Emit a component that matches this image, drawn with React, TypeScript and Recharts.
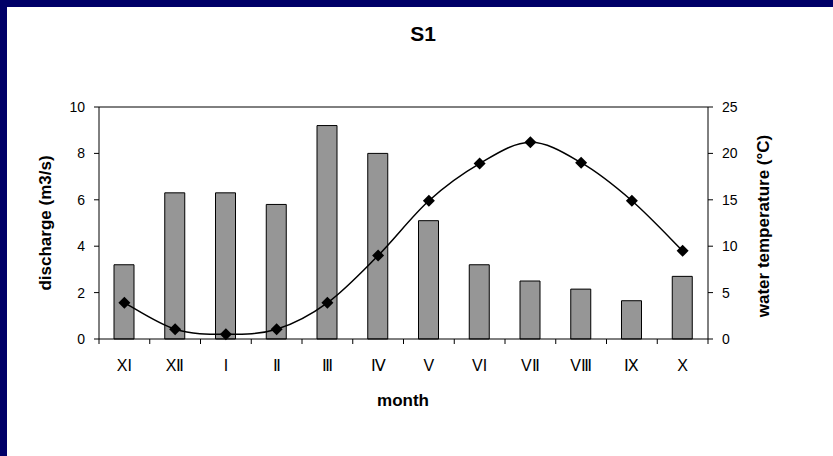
import React from "react";
import { ComposedChart, Bar, Line, XAxis, YAxis, ReferenceLine } from "recharts";

const MONTHS = ["XI", "XⅡ", "I", "Ⅱ", "Ⅲ", "Ⅳ", "V", "VI", "VⅡ", "VⅢ", "Ⅸ", "X"];
const DISCHARGE = [3.2, 6.3, 6.3, 5.8, 9.2, 8.0, 5.1, 3.2, 2.5, 2.15, 1.65, 2.7];
const TEMPERATURE = [3.9, 1.05, 0.5, 1.05, 3.9, 9.0, 14.9, 18.9, 21.2, 19.0, 14.9, 9.5];
const LEFT_TICKS = [0, 2, 4, 6, 8, 10];
const RIGHT_TICKS = [0, 5, 10, 15, 20, 25];

const data = MONTHS.map((m, i) => ({ month: m, discharge: DISCHARGE[i], temp: TEMPERATURE[i] }));

const W = 833;
const H = 456;
const FONT = "'Liberation Sans', Arial, sans-serif";
const PLOT = { left: 99, right: 708, top: 107, bottom: 339 };
const BAND = (PLOT.right - PLOT.left) / MONTHS.length;

// Excel-like smoothed line (Catmull-Rom as cubic bezier)
function smoothCurve(context: any) {
  let pts: number[][] = [];
  return {
    areaStart() {},
    areaEnd() {},
    lineStart() {
      pts = [];
    },
    lineEnd() {
      if (!pts.length) return;
      context.moveTo(pts[0][0], pts[0][1]);
      for (let i = 0; i < pts.length - 1; i++) {
        const p0 = pts[i - 1] || pts[i];
        const p1 = pts[i];
        const p2 = pts[i + 1];
        const p3 = pts[i + 2] || p2;
        context.bezierCurveTo(
          p1[0] + (p2[0] - p0[0]) / 6,
          p1[1] + (p2[1] - p0[1]) / 6,
          p2[0] - (p3[0] - p1[0]) / 6,
          p2[1] - (p3[1] - p1[1]) / 6,
          p2[0],
          p2[1]
        );
      }
    },
    point(x: number, y: number) {
      pts.push([+x, +y]);
    },
  };
}

function Diamond(props: any) {
  const { cx, cy } = props;
  if (cx == null || cy == null) return null;
  const r = 6;
  return <path d={`M${cx},${cy - r}L${cx + r},${cy}L${cx},${cy + r}L${cx - r},${cy}Z`} fill="#000" />;
}

function MonthTick(props: any) {
  const { x, y, payload, index } = props;
  const half = BAND / 2;
  return (
    <g>
      <line x1={x - half} x2={x - half} y1={y} y2={y + 5} stroke="#000" />
      {index === MONTHS.length - 1 && <line x1={x + half} x2={x + half} y1={y} y2={y + 5} stroke="#000" />}
      <text x={x} y={y + 32} textAnchor="middle" fontSize={16} fontFamily={FONT} fill="#000">
        {payload.value}
      </text>
    </g>
  );
}

export default function App() {
  const tickStyle = { fontSize: 14, fontFamily: FONT, fill: "#000" };
  return (
    <div
      style={{
        position: "absolute",
        left: 0,
        top: 0,
        width: W,
        height: H,
        background: "#fff",
        boxSizing: "border-box",
        borderTop: "7px solid #000068",
        borderLeft: "7px solid #000068",
        overflow: "hidden",
      }}
    >
      <div style={{ position: "absolute", left: -7, top: -7 }}>
        <ComposedChart
          width={W}
          height={H}
          data={data}
          margin={{ top: PLOT.top, right: W - PLOT.right - 40, bottom: H - PLOT.bottom - 30, left: PLOT.left - 40 }}
        >
          <XAxis
            dataKey="month"
            height={30}
            axisLine={{ stroke: "#000" }}
            tickLine={false}
            tickSize={0}
            tickMargin={0}
            interval={0}
            tick={<MonthTick />}
          />
          <YAxis
            yAxisId="left"
            width={40}
            domain={[0, 10]}
            ticks={LEFT_TICKS}
            interval={0}
            axisLine={{ stroke: "#000" }}
            tickLine={{ stroke: "#000" }}
            tickSize={5}
            tickMargin={9}
            tick={tickStyle}
          />
          <YAxis
            yAxisId="right"
            orientation="right"
            width={40}
            domain={[0, 25]}
            ticks={RIGHT_TICKS}
            interval={0}
            axisLine={{ stroke: "#000" }}
            tickLine={{ stroke: "#000" }}
            tickSize={5}
            tickMargin={9}
            tick={{ ...tickStyle, textAnchor: "start" }}
          />
          <ReferenceLine yAxisId="left" y={10} stroke="#000" />
          <Bar
            yAxisId="left"
            dataKey="discharge"
            barSize={20}
            fill="#969696"
            stroke="#000"
            strokeWidth={1}
            isAnimationActive={false}
          />
          <Line
            yAxisId="right"
            dataKey="temp"
            type={smoothCurve as any}
            stroke="#000"
            strokeWidth={1.5}
            dot={<Diamond />}
            activeDot={false}
            isAnimationActive={false}
          />
        </ComposedChart>
        <svg width={W} height={H} style={{ position: "absolute", left: 0, top: 0, pointerEvents: "none" }}>
          <text x={423} y={41} textAnchor="middle" fontSize={21} fontWeight="bold" fontFamily={FONT} fill="#000">
            S1
          </text>
          <text x={403} y={406} textAnchor="middle" fontSize={17} fontWeight="bold" fontFamily={FONT} fill="#000">
            month
          </text>
          <text
            transform={`translate(51,${(PLOT.top + PLOT.bottom) / 2}) rotate(-90)`}
            textAnchor="middle"
            fontSize={17}
            fontWeight="bold"
            fontFamily={FONT}
            fill="#000"
          >
            discharge (m3/s)
          </text>
          <text
            transform={`translate(769,${(PLOT.top + PLOT.bottom) / 2 + 3}) rotate(-90)`}
            textAnchor="middle"
            fontSize={17}
            fontWeight="bold"
            fontFamily={FONT}
            fill="#000"
          >
            water temperature (°C)
          </text>
        </svg>
      </div>
    </div>
  );
}
